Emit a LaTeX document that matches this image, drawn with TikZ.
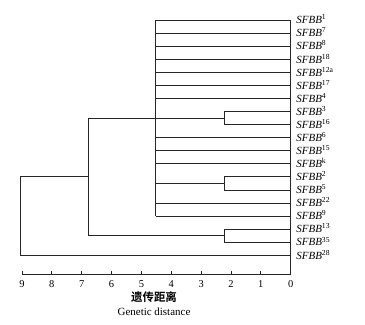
\documentclass[tikz,border=0pt]{standalone}
\usepackage{fontspec}
\setmainfont{Liberation Serif}
\newfontfamily\cjk{Noto Sans CJK SC Bold}
\begin{document}
\begin{tikzpicture}[x=1bp,y=-1bp,
  line width=0.8bp, draw=black!85,
  leaf/.style={anchor=base west,inner sep=0pt,font=\fontsize{11}{13}\selectfont},
  ticklab/.style={anchor=center,inner sep=0pt,font=\fontsize{10.5}{12}\selectfont},
  axlab/.style={anchor=center,inner sep=0pt,font=\fontsize{11}{13}\selectfont}]
\useasboundingbox (0,0) rectangle (365,325);
% leaves
\foreach \i/\s in {0/1,1/7,2/8,3/18,4/12a,5/17,6/4,7/3,8/16,9/6,10/15,11/k,12/2,13/5,14/22,15/9,16/13,17/35,18/28}{
  \coordinate (t\i) at (290.7,{20+13.07*\i});
  \node[leaf] (n\i) at (296,{23.8+13.07*\i}) {\textit{SFBB}\textsuperscript{\s}};
}
% internal nodes
\coordinate (A0) at (155.7,20);
\coordinate (A15) at (155.7,216.05);
\coordinate (B) at (224.4,118.0);
\coordinate (C) at (224.4,183.4);
\coordinate (D) at (224.4,235.65);
\coordinate (E1) at (88.3,118.0);
\coordinate (E2) at (88.3,235.65);
\coordinate (R) at (20.8,176.8);
% big cluster
\draw (A0) -- (A15);
\foreach \i in {0,1,2,3,4,5,6,9,10,11,14,15}{
  \draw (A0 |- t\i) -- (t\i);
}
\draw (t7) -| (B) |- (t8);
\draw (t12) -| (C) |- (t13);
\draw (t16) -| (D) |- (t17);
\draw (C) -- (C -| A0);
\draw (B) -- (E1) -- (E2) -- (D);
\draw (R -| E1) -- (R) |- (t18);
% axis
\coordinate (ax0) at (290.7,274.5);
\coordinate (ax9) at (21.96,274.5);
\draw[line width=1bp] (t0) -- (ax0);
\draw (ax9) -- (ax0);
\foreach \d in {0,...,9}{
  \coordinate (k\d) at ({290.7-29.86*\d},274.5);
  \draw (k\d) -- ++(0,-4);
  \node[ticklab] (l\d) at ({290.7-29.86*\d},284.5) {\d};
}
\node[inner sep=0pt,font=\cjk\fontsize{11.5}{13}\selectfont] (cn) at (154,297) {遗传距离};
\node[axlab] (en) at (154,312) {Genetic distance};
\end{tikzpicture}
\end{document}
